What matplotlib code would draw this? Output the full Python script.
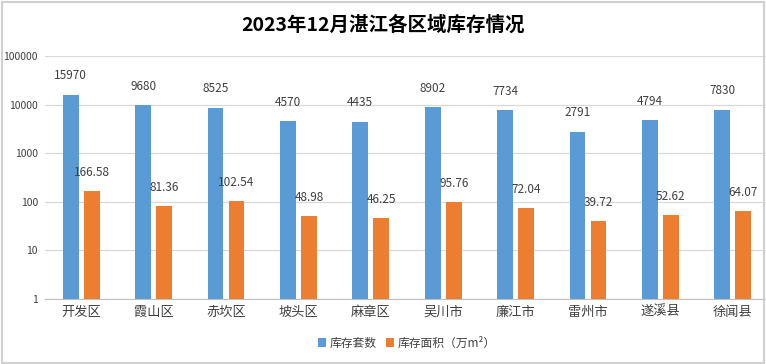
import matplotlib
matplotlib.use("Agg")
import matplotlib.pyplot as plt
import numpy as np
from matplotlib.patches import Rectangle

plt.rcParams['font.family'] = ['Noto Sans CJK SC', 'DejaVu Sans']

categories = ['开发区', '霞山区', '赤坎区', '坡头区', '麻章区', '吴川市', '廉江市', '雷州市', '遂溪县', '徐闻县']
units = [15970, 9680, 8525, 4570, 4435, 8902, 7734, 2791, 4794, 7830]
area = [166.58, 81.36, 102.54, 48.98, 46.25, 95.76, 72.04, 39.72, 52.62, 64.07]
unit_labels = ['15970', '9680', '8525', '4570', '4435', '8902', '7734', '2791', '4794', '7830']
area_labels = ['166.58', '81.36', '102.54', '48.98', '46.25', '95.76', '72.04', '39.72', '52.62', '64.07']
yticks = [1, 10, 100, 1000, 10000, 100000]
ytick_labels = ['1', '10', '100', '1000', '10000', '100000']

blue = '#5B9BD5'
orange = '#ED7D31'

fig = plt.figure(figsize=(7.66, 3.64), dpi=100)
ax = fig.add_axes([45/766, 1-299/364, 724/766, (299-56)/364])

x = np.arange(len(categories))
w = 0.22
off = 0.145
ax.bar(x - off, units, width=w, color=blue, bottom=1, label='库存套数')
ax.bar(x + off, area, width=w, color=orange, bottom=1, label='库存面积（万m²）')

ax.set_yscale('log')
ax.set_ylim(1, 100000)
ax.set_xlim(-0.5, len(categories) - 0.5)
ax.set_yticks(yticks)
ax.set_yticklabels(ytick_labels, fontsize=7.5, color='#404040')
ax.yaxis.set_minor_locator(matplotlib.ticker.NullLocator())
ax.set_xticks(x)
ax.set_xticklabels(categories, fontsize=9.5, color='#404040')
ax.tick_params(axis='y', length=0, pad=5)
ax.tick_params(axis='x', length=0, pad=5)
ax.grid(axis='y', color='#d9d9d9', linewidth=0.9)
ax.set_axisbelow(True)
for s in ['top', 'right', 'left']:
    ax.spines[s].set_visible(False)
ax.spines['bottom'].set_color('#bfbfbf')

for i in range(len(categories)):
    ax.annotate(unit_labels[i], (x[i] - off, units[i]), xytext=(0, 9), textcoords='offset points',
                ha='center', va='bottom', fontsize=8.5, color='#404040')
    ax.annotate(area_labels[i], (x[i] + off, area[i]), xytext=(0, 9), textcoords='offset points',
                ha='center', va='bottom', fontsize=8.5, color='#404040')

fig.text(0.5, 1-25/364, '2023年12月湛江各区域库存情况', ha='center', va='center',
         fontsize=14, fontweight='bold', color='#000000')

ax.legend(loc='center', bbox_to_anchor=(0.5, (299-343)/(299-56)), ncol=2, frameon=False,
          fontsize=8.5, handlelength=0.7, handleheight=0.7, handletextpad=0.3, columnspacing=0.8,
          labelcolor='#404040')

fig.patches.append(Rectangle((0.002, 0.004), 0.996, 0.99, transform=fig.transFigure,
                             fill=False, edgecolor='#d0d0d0', linewidth=1.5))

fig.savefig('out.png', dpi=100)
